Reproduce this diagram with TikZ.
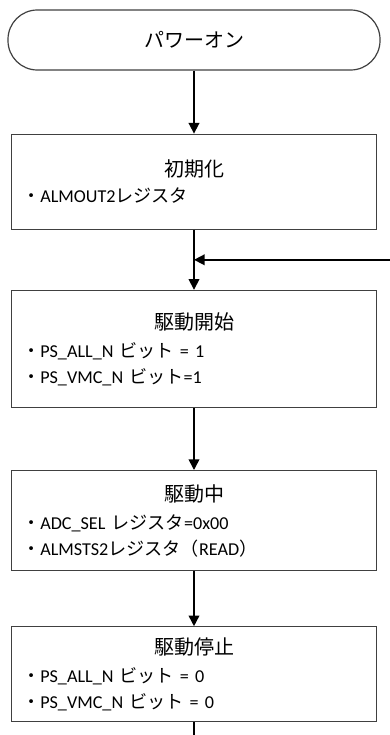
\documentclass[tikz,border=0pt]{standalone}
\usepackage{fontspec}
\setmainfont{Carlito}
\newfontfamily\jp{Noto Sans CJK JP}
\newcommand{\J}[1]{{\jp #1}}
\newcommand{\ttl}[1]{\makebox[\hsize]{\fontsize{15pt}{19.5pt}\selectfont\jp #1}}
\usetikzlibrary{positioning, arrows.meta}

\begin{document}
\begin{tikzpicture}[
      x=0.75pt, y=-0.75pt,
      node distance=45pt,
      line/.style={line width=1.2pt},
      arr/.style={line, -{Triangle[length=8pt, width=8pt]}},
      term/.style={draw=black!75, line width=0.9pt, rounded corners=22pt, minimum width=279pt, minimum height=45pt, font=\fontsize{15pt}{19.5pt}\selectfont\jp},
      box/.style={draw=black!75, line width=0.9pt, minimum width=273.75pt, text width=257.75pt, inner xsep=8pt, align=left, font=\fontsize{13.6pt}{19.5pt}\selectfont}]

    \useasboundingbox (0,0) rectangle (389,735);

    \node[term] (poweron) at (194,40) {パワーオン};
    \node[box, minimum height=71.25pt, below=47.25pt of poweron] (init) {\ttl{初期化}\\ \J{・}ALMOUT2\J{レジスタ}};
    \node[box, minimum height=87.75pt, below=45pt of init] (start) {\ttl{駆動開始}\\[1.5pt] \J{・}PS\_ALL\_N \J{ビット} = 1\\ \J{・}PS\_VMC\_N \J{ビット}=1};
    \node[box, minimum height=75pt, below=46.5pt of start] (run) {\ttl{駆動中}\\[1.5pt] \J{・}ADC\_SEL \J{レジスタ}=0x00\\ \J{・}ALMSTS2\J{レジスタ（}READ\J{）}};
    \node[box, minimum height=71.25pt, below=41.25pt of run] (stop) {\ttl{駆動停止}\\[1.5pt] \J{・}PS\_ALL\_N \J{ビット} = 0\\ \J{・}PS\_VMC\_N \J{ビット} = 0};

    % loop back in from the right
    \coordinate[below=22.5pt of init] (join);
    \path (390,0) coordinate (rim) (0,736) coordinate (floor);
    \coordinate (back) at (join -| rim);
    \coordinate (tail) at (stop.south |- floor);

    \draw[arr] (poweron) -- (init);
    \draw[arr] (init) -- (start);
    \draw[arr] (back) -- (join);
    \draw[arr] (start) -- (run);
    \draw[arr] (run) -- (stop);
    \draw[line] (stop) -- (tail);
  \end{tikzpicture}
\end{document}
